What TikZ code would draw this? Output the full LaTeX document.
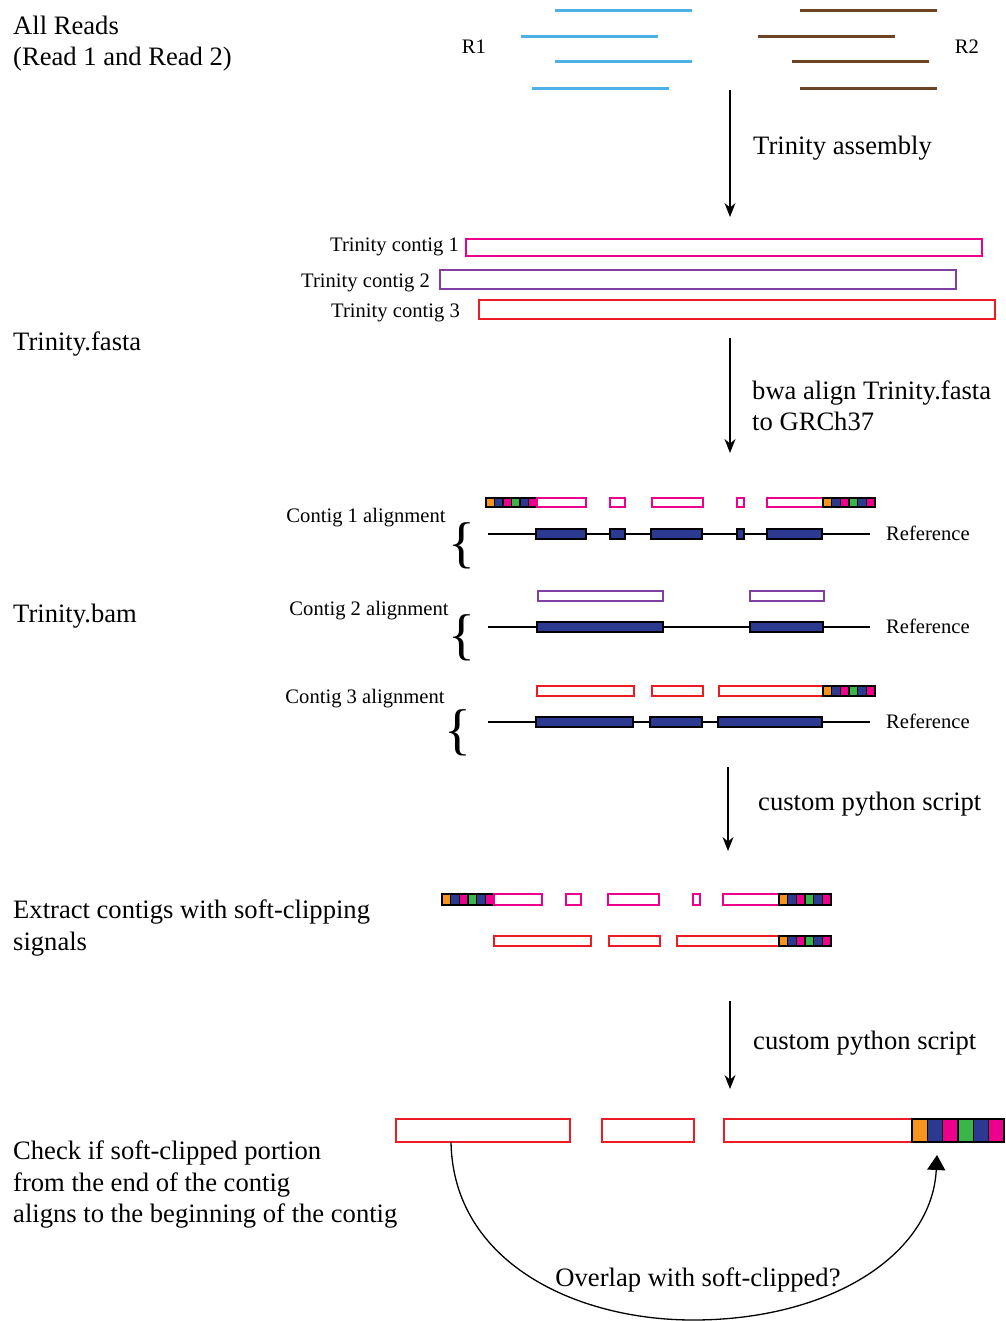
\documentclass[tikz,border=0pt]{standalone}
\usepackage{fontspec}
\setmainfont{Liberation Serif}
\usetikzlibrary{arrows.meta}
\definecolor{readblue}{RGB}{77,176,230}
\definecolor{readbrown}{RGB}{109,68,35}
\definecolor{scpink}{RGB}{236,0,140}
\definecolor{scpurple}{RGB}{128,64,160}
\definecolor{scred}{RGB}{237,28,36}
\definecolor{scnavy}{RGB}{43,57,144}
\definecolor{scorange}{RGB}{247,148,29}
\definecolor{scgreen}{RGB}{57,181,74}
\newcommand\bigtxt{\fontsize{26.6}{31.5}\selectfont}
\newcommand\smalltxt{\fontsize{20.6}{24}\selectfont}
\newcommand\scblocks[4]{%
  \pgfmathsetmacro\scbw{(#2-#1)/6}%
  \foreach \c [count=\i from 0] in {scorange,scnavy,scpink,scgreen,scnavy,scpink}{%
    \draw[black,line width=1.3,fill=\c] ({#1+\i*\scbw},#3) rectangle ({#1+(\i+1)*\scbw},#4);}%
}
\tikzset{
  bigl/.style={font=\bigtxt,inner sep=0pt,anchor=west,align=left,yshift=-2pt},
  smalll/.style={font=\smalltxt,inner sep=0pt,yshift=-1pt},
  readb/.style={readblue,line width=3pt},
  readr/.style={readbrown,line width=3pt},
  pinkbox/.style={draw=scpink,line width=1.6pt},
  purpbox/.style={draw=scpurple,line width=1.6pt},
  redbox/.style={draw=scred,line width=1.6pt},
  exon/.style={draw=black,line width=1.4pt,fill=scnavy},
  refline/.style={black,line width=1.5pt},
  flowarrow/.style={line width=1.3pt,-{Stealth[length=14pt,width=11pt]}},
  bracetxt/.style={font=\fontsize{56}{60}\selectfont,inner sep=0pt}
}
\begin{document}
\begin{tikzpicture}[x=1pt,y=-1pt]
\useasboundingbox (0,0) rectangle (1005,1321);
% ---- reads
\node[bigl] (allreads) at (13,41.5) {All Reads\\(Read 1 and Read 2)};
\node[smalll] (r1) at (474,46) {R1};
\node[smalll] (r2) at (967,46) {R2};
\draw[readb] (555,11) -- (692,11);
\draw[readb] (521,37) -- (658,37);
\draw[readb] (555,62) -- (692,62);
\draw[readb] (532,89) -- (669,89);
\draw[readr] (800,11) -- (937,11);
\draw[readr] (758,37) -- (895,37);
\draw[readr] (792,62) -- (929,62);
\draw[readr] (800,89) -- (937,89);
% ---- arrow 1
\coordinate (a1s) at (730,90);
\coordinate (a1e) at (730,217);
\draw[flowarrow] (a1s) -- (a1e);
\node[bigl] (lab1) at (753,146) {Trinity assembly};
% ---- contigs
\node[smalll,anchor=east] (tc1) at (459,246) {Trinity contig 1};
\node[smalll,anchor=east] (tc2) at (430,282) {Trinity contig 2};
\node[smalll,anchor=east] (tc3) at (460,312) {Trinity contig 3};
\draw[pinkbox] (466,239) rectangle (982,256);
\draw[purpbox] (440,270) rectangle (956,289);
\draw[redbox] (479,300) rectangle (995,319);
\node[bigl] (fasta) at (13,342) {Trinity.fasta};
% ---- arrow 2
\coordinate (a2s) at (730,338);
\coordinate (a2e) at (730,453);
\draw[flowarrow] (a2s) -- (a2e);
\node[bigl] (lab2) at (752,404) {bwa align Trinity.fasta\\to GRCh37};
% ---- alignments
\node[bigl] (bam) at (13,614) {Trinity.bam};
% contig 1
\node[smalll] (al1) at (366,517) {Contig 1 alignment};
\node[bracetxt] (br1) at (462,546) {\{};
\node[smalll,anchor=west] (ref1) at (886,532) {Reference};
\scblocks{486}{537}{498}{507}
\draw[pinkbox] (537,498) rectangle (586,507);
\draw[pinkbox] (610,498) rectangle (625,507);
\draw[pinkbox] (652,498) rectangle (703,507);
\draw[pinkbox] (737,498) rectangle (744,507);
\draw[pinkbox] (767,498) rectangle (823,507);
\scblocks{823}{875}{498}{507}
\draw[refline] (488,534) -- (870,534);
\draw[exon] (536,529) rectangle (586,539);
\draw[exon] (610,529) rectangle (625,539);
\draw[exon] (651,529) rectangle (702,539);
\draw[exon] (737,529) rectangle (744,539);
\draw[exon] (767,529) rectangle (822,539);
% contig 2
\node[smalll] (al2) at (369,610) {Contig 2 alignment};
\node[bracetxt] (br2) at (462,638) {\{};
\node[smalll,anchor=west] (ref2) at (886,625) {Reference};
\draw[purpbox] (538,591) rectangle (663,601);
\draw[purpbox] (750,591) rectangle (824,601);
\draw[refline] (488,627) -- (870,627);
\draw[exon] (537,622) rectangle (663,632);
\draw[exon] (750,622) rectangle (823,632);
% contig 3
\node[smalll] (al3) at (365,698) {Contig 3 alignment};
\node[bracetxt] (br3) at (458,733) {\{};
\node[smalll,anchor=west] (ref3) at (886,720) {Reference};
\draw[redbox] (537,686) rectangle (634,696);
\draw[redbox] (652,686) rectangle (703,696);
\draw[redbox] (719,686) rectangle (823,696);
\scblocks{823}{875}{686}{696}
\draw[refline] (488,722) -- (870,722);
\draw[exon] (536,717) rectangle (633,727);
\draw[exon] (650,717) rectangle (702,727);
\draw[exon] (718,717) rectangle (822,727);
% ---- arrow 3
\coordinate (a3s) at (728,767);
\coordinate (a3e) at (728,851);
\draw[flowarrow] (a3s) -- (a3e);
\node[bigl] (lab3) at (758,802) {custom python script};
% ---- extract
\node[bigl] (extract) at (13,926) {Extract contigs with soft-clipping\\signals};
\scblocks{442}{494}{894}{905}
\draw[pinkbox] (494,894) rectangle (542,905);
\draw[pinkbox] (566,894) rectangle (581,905);
\draw[pinkbox] (608,894) rectangle (659,905);
\draw[pinkbox] (693,894) rectangle (700,905);
\draw[pinkbox] (723,894) rectangle (779,905);
\scblocks{779}{831}{894}{905}
\draw[redbox] (494,936) rectangle (591,946);
\draw[redbox] (609,936) rectangle (660,946);
\draw[redbox] (677,936) rectangle (779,946);
\scblocks{779}{831}{936}{946}
% ---- arrow 4
\coordinate (a4s) at (730,1001);
\coordinate (a4e) at (730,1089);
\draw[flowarrow] (a4s) -- (a4e);
\node[bigl] (lab4) at (753,1041) {custom python script};
% ---- final check
\node[bigl] (check) at (13,1182.5) {Check if soft-clipped portion\\from the end of the contig\\aligns to the beginning of the contig};
\draw[redbox] (396,1119) rectangle (570,1142);
\draw[redbox] (602,1119) rectangle (694,1142);
\draw[redbox] (724,1119) rectangle (912,1142);
\scblocks{912}{1004}{1119}{1142}
\coordinate (c0) at (451,1142);
\coordinate (cb) at (693,1320);
\coordinate (c1) at (937,1155);
\draw[line width=1.3pt,-{Triangle[length=15pt,width=18pt]}]
  (c0) .. controls (453,1262) and (575,1320) .. (cb)
       .. controls (830,1320) and (932,1255) .. (c1);
\node[font=\bigtxt,inner sep=0pt,yshift=-2pt] (overlap) at (698,1278) {Overlap with soft-clipped?};
\end{tikzpicture}
\end{document}
